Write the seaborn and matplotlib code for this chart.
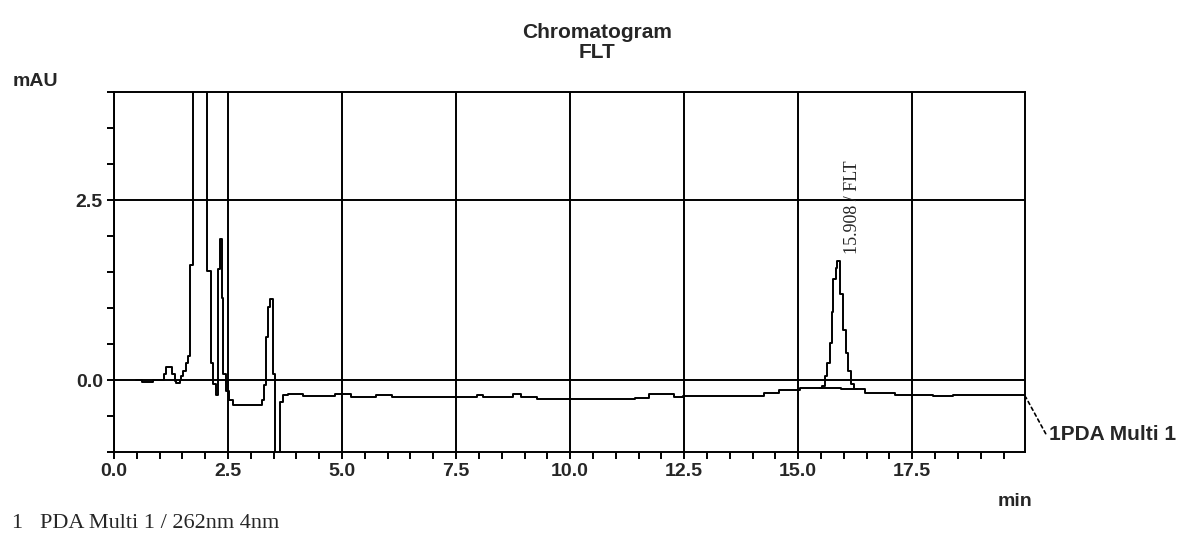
import numpy as np
import pandas as pd
import seaborn as sns
import matplotlib.pyplot as plt
from matplotlib.ticker import MultipleLocator

# detector trace (min, mAU); drawn as a step trace
time_min = [0.48, 0.61, 0.86, 1.10, 1.14, 1.27, 1.33, 1.37, 1.44, 1.47,
            1.52, 1.58, 1.63, 1.66, 1.73, 2.05, 2.12, 2.18, 2.24, 2.29,
            2.32, 2.36, 2.40, 2.46, 2.53, 2.62, 3.24, 3.29, 3.33, 3.38,
            3.43, 3.48, 3.52, 3.63, 3.70, 3.82, 4.14, 4.85, 5.19, 5.75,
            6.10, 7.95, 8.10, 8.75, 8.93, 9.27, 11.43, 11.72, 12.27, 12.48,
            14.24, 14.57, 15.04, 15.52, 15.59, 15.63, 15.70, 15.74, 15.77, 15.83,
            15.86, 15.92, 15.98, 16.05, 16.10, 16.16, 16.23, 16.47, 17.13, 17.96,
            18.40, 19.97]
signal_mau = [0.00, -0.03, 0.00, 0.09, 0.18, 0.09, -0.02, -0.04, 0.00, 0.05,
              0.12, 0.23, 0.33, 1.60, 8.00, 1.51, 0.23, -0.05, -0.21, 1.54,
              1.96, 1.14, 0.09, -0.15, -0.28, -0.35, -0.28, -0.07, 0.60, 1.02,
              1.12, 0.09, -3.00, -0.30, -0.21, -0.20, -0.22, -0.20, -0.23, -0.21,
              -0.23, -0.21, -0.23, -0.20, -0.23, -0.27, -0.25, -0.20, -0.24, -0.22,
              -0.18, -0.14, -0.11, -0.09, 0.05, 0.23, 0.51, 0.95, 1.40, 1.56,
              1.65, 1.19, 0.70, 0.37, 0.12, -0.05, -0.12, -0.18, -0.21, -0.22,
              -0.21, -0.21]

# integration baseline under the FLT peak
base_time = [15.48, 15.93, 16.28]
base_mau = [-0.11, -0.13, -0.13]

x_ticks = [0.0, 2.5, 5.0, 7.5, 10.0, 12.5, 15.0, 17.5]
y_ticks = [0.0, 2.5]

peak_time = 16.2
peak_label = "15.908 / FLT"

trace = pd.DataFrame({"min": time_min, "mAU": signal_mau})
baseline = pd.DataFrame({"min": base_time, "mAU": base_mau})

sns.set_style("white")
plt.rcParams["font.family"] = ["Liberation Sans", "DejaVu Sans"]
plt.rcParams["font.weight"] = "bold"

fig = plt.figure(figsize=(11.86, 5.36), dpi=100)
ax = fig.add_axes([0.0961, 0.1567, 0.7681, 0.6716])

lw = 1.4
sns.lineplot(data=trace, x="min", y="mAU", ax=ax, color="black", lw=lw,
             estimator=None, sort=False, drawstyle="steps-post")
sns.lineplot(data=baseline, x="min", y="mAU", ax=ax, color="black", lw=lw,
             estimator=None, sort=False, drawstyle="steps-post")

ax.set_xlim(0, 19.97)
ax.set_ylim(-1.0, 4.0)
ax.set_xticks(x_ticks)
ax.set_xticklabels([f"{t:.1f}" for t in x_ticks])
ax.set_yticks(y_ticks)
ax.set_yticklabels([f"{t:.1f}" for t in y_ticks])
ax.xaxis.set_minor_locator(MultipleLocator(0.5))
ax.yaxis.set_minor_locator(MultipleLocator(0.5))
ax.grid(True, which="major", color="black", lw=lw)
ax.set_axisbelow(False)
ax.tick_params(axis="both", which="both", direction="out", length=5, width=lw,
               color="black", labelsize=14, bottom=True, left=True, pad=3)
ax.set_xlabel("")
ax.set_ylabel("")
for sp in ax.spines.values():
    sp.set_color("black")
    sp.set_linewidth(lw)

ax.text(peak_time, 1.75, peak_label, rotation=90, ha="center", va="bottom",
        family="Liberation Serif", fontweight="normal", fontsize=13)

ax.annotate("1PDA Multi 1", xy=(19.99, -0.24), xycoords="data",
            xytext=(1049, 536 - 434), textcoords="figure pixels",
            ha="left", va="center", fontsize=15, annotation_clip=False,
            arrowprops=dict(arrowstyle="-", linestyle=(0, (2, 2)), color="black",
                            lw=1.2, shrinkA=0, shrinkB=0, relpos=(0, 0.2)))

fig.text(597 / 1186, 1 - 32 / 536, "Chromatogram", ha="center", va="center", fontsize=15)
fig.text(597 / 1186, 1 - 53 / 536, "FLT", ha="center", va="center", fontsize=15)
fig.text(13 / 1186, 1 - 82 / 536, "mAU", ha="left", va="center", fontsize=14)
fig.text(1015 / 1186, 1 - 502 / 536, "min", ha="center", va="center", fontsize=14)
fig.text(12 / 1186, 1 - 523 / 536, "1   PDA Multi 1 / 262nm 4nm", ha="left", va="center",
         family="Liberation Serif", fontweight="normal", fontsize=16)

fig.savefig("out.png", dpi=100)
